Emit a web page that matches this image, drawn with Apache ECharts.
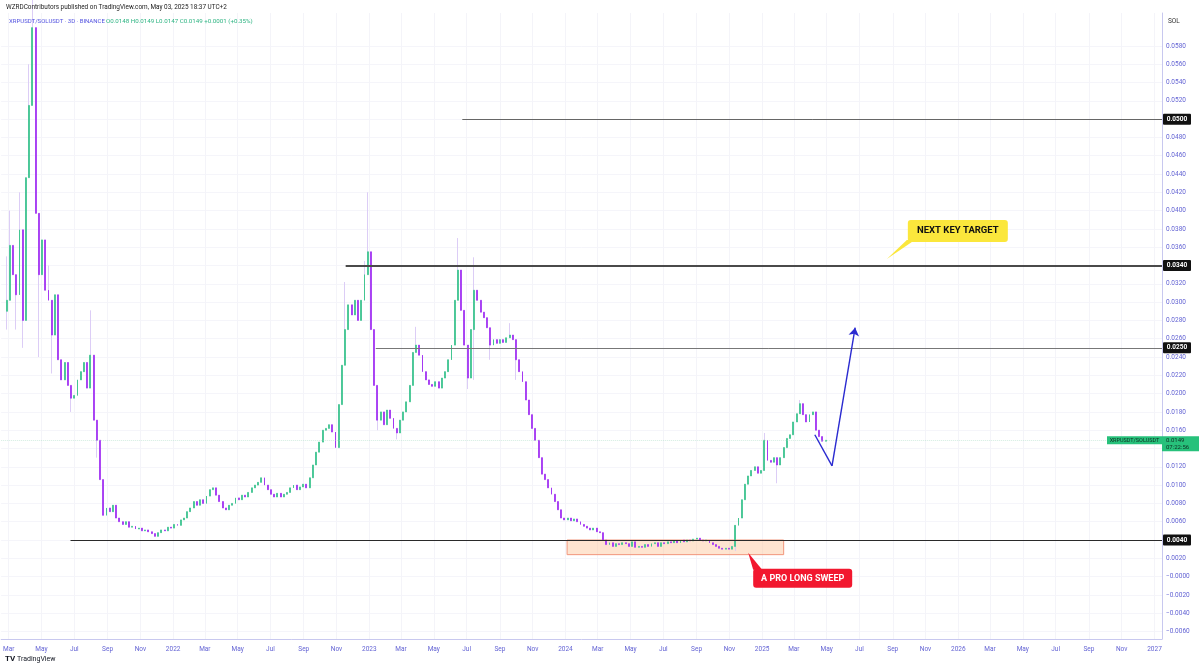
<!DOCTYPE html>
<html><head><meta charset="utf-8">
<script src="https://cdn.jsdelivr.net/npm/echarts@6/dist/echarts.min.js"></script>
<style>html,body{margin:0;padding:0;background:#fff}#c{width:1199px;height:668px}</style>
</head><body><div id="c"></div>
<script>
// ---------------- DATA ----------------
const candleStart = '2021-02-25';
const candleStepDays = 6;
const firstOpen = 0.0290;
const closes = [
0.0302,0.0362,0.0330,0.0308,0.0379,0.0280,0.0436,0.0515,0.0600,0.0397,
0.0330,0.0368,0.0313,0.0302,0.0264,0.0308,0.0237,0.0215,0.0234,0.0209,
0.0195,0.0198,0.0215,0.0224,0.0234,0.0206,0.0242,0.0171,0.0149,0.0106,
0.0067,0.0075,0.0071,0.0078,0.0064,0.0060,0.0057,0.0060,0.0054,0.0055,
0.0052,0.0053,0.0050,0.0051,0.0049,0.0047,0.0044,0.0048,0.0051,0.0050,
0.0054,0.0053,0.0057,0.0056,0.0062,0.0064,0.0071,0.0075,0.0082,0.0078,
0.0084,0.0080,0.0088,0.0095,0.0097,0.0089,0.0082,0.0075,0.0073,0.0078,
0.0080,0.0086,0.0084,0.0089,0.0087,0.0092,0.0097,0.0100,0.0103,0.0108,
0.0100,0.0095,0.0090,0.0087,0.0091,0.0087,0.0090,0.0092,0.0097,0.0100,
0.0095,0.0098,0.0101,0.0097,0.0108,0.0122,0.0136,0.0147,0.0160,0.0162,
0.0166,0.0158,0.0141,0.0188,0.0231,0.0270,0.0297,0.0286,0.0302,0.0280,
0.0302,0.0330,0.0355,0.0270,0.0209,0.0171,0.0180,0.0166,0.0182,0.0173,
0.0162,0.0157,0.0171,0.0180,0.0191,0.0209,0.0245,0.0253,0.0242,0.0224,
0.0215,0.0210,0.0208,0.0213,0.0206,0.0217,0.0224,0.0237,0.0253,0.0302,
0.0335,0.0291,0.0253,0.0217,0.0270,0.0313,0.0302,0.0289,0.0283,0.0272,
0.0253,0.0259,0.0255,0.0259,0.0256,0.0261,0.0264,0.0259,0.0237,0.0224,
0.0213,0.0193,0.0177,0.0162,0.0149,0.0130,0.0112,0.0106,0.0097,0.0090,
0.0082,0.0073,0.0064,0.0062,0.0064,0.0061,0.0063,0.0060,0.0057,0.0055,
0.0053,0.0051,0.0053,0.0049,0.0048,0.0040,0.0035,0.0037,0.0033,0.0036,
0.0035,0.0037,0.0036,0.0033,0.0038,0.0032,0.0033,0.0032,0.0035,0.0033,
0.0036,0.0037,0.0033,0.0037,0.0036,0.0038,0.0037,0.0039,0.0037,0.0040,
0.0038,0.0040,0.0039,0.0041,0.0042,0.0040,0.0039,0.0040,0.0037,0.0035,
0.0033,0.0031,0.0030,0.0031,0.0030,0.0033,0.0056,0.0064,0.0084,0.0101,
0.0110,0.0116,0.0120,0.0113,0.0116,0.0149,0.0127,0.0125,0.0130,0.0122,
0.0130,0.0141,0.0151,0.0155,0.0169,0.0178,0.0189,0.0177,0.0169,0.0177,
0.0180,0.0160,0.0153,0.0148,0.0149
];
// [candle index, wick high, wick low]
const wicks = [
[0,0.0350,0.0270],[1,0.0400,null],[3,null,0.0270],[4,0.0420,null],[5,null,0.0250],
[7,0.0560,null],[8,0.0680,null],[10,null,0.0240],[13,0.0340,null],[14,null,0.0222],
[16,0.0290,null],[20,null,0.0180],[26,0.0291,null],[28,null,0.0130],
[105,0.0322,null],[111,0.0345,null],[112,0.0420,null],[115,null,0.0160],[121,null,0.0150],
[127,0.0273,null],[140,0.0370,null],[143,null,0.0205],[145,0.0349,0.0215],[150,null,0.0237],
[156,0.0277,null],[158,null,0.0215],[226,null,0.0028],[235,0.0157,null],[239,null,0.0102],[246,0.0193,null]
];
const xTickDates = ['2021-03-01','2021-05-01','2021-07-01','2021-09-01','2021-11-01',
'2022-01-01','2022-03-01','2022-05-01','2022-07-01','2022-09-01','2022-11-01',
'2023-01-01','2023-03-01','2023-05-01','2023-07-01','2023-09-01','2023-11-01',
'2024-01-01','2024-03-01','2024-05-01','2024-07-01','2024-09-01','2024-11-01',
'2025-01-01','2025-03-01','2025-05-01','2025-07-01','2025-09-01','2025-11-01',
'2026-01-01','2026-03-01','2026-05-01','2026-07-01','2026-09-01','2026-11-01','2027-01-01'];
const xTickLabels = ['Mar','May','Jul','Sep','Nov',
'2022','Mar','May','Jul','Sep','Nov',
'2023','Mar','May','Jul','Sep','Nov',
'2024','Mar','May','Jul','Sep','Nov',
'2025','Mar','May','Jul','Sep','Nov',
'2026','Mar','May','Jul','Sep','Nov','2027'];
const yTickValues = [-0.006,-0.004,-0.002,0,0.002,0.004,0.006,0.008,0.010,0.012,0.014,0.016,0.018,0.020,
0.022,0.024,0.026,0.028,0.030,0.032,0.034,0.036,0.038,0.040,0.042,0.044,0.046,0.048,0.050,0.052,0.054,0.056,0.058];
const levelPrices = [0.0500, 0.0340, 0.0250, 0.0040];
const levelStarts = ['2023-06-23','2022-11-18','2023-01-13','2021-06-24'];
const sweepFrom = '2024-01-04', sweepTo = '2025-02-10', sweepTop = 0.0040, sweepBottom = 0.0024;
const arrowDates = ['2025-04-09','2025-05-11','2025-06-23'];
const arrowPrices = [0.0155, 0.0121, 0.0272];
const targetTip = ['2025-08-21', 0.0347];
const sweepTip = ['2024-12-06', 0.0026];
const lastPrice = 0.0149;
const countdown = '07:22:56';
const headerLine1 = 'WZRDContributors published on TradingView.com, May 03, 2025 18:37 UTC+2';
const symbolText = 'XRPUSDT/SOLUSDT · 3D · BINANCE';
const ohlcText = 'O0.0148 H0.0149 L0.0147 C0.0149 +0.0001 (+0.35%)';
const xMinDate = '2021-02-15', xMaxDate = '2027-01-15';
const yMin = -0.00682, yMax = 0.0616;

// ---------------- BUILD ----------------
const DAY = 86400000;
const t = s => Date.parse(s + 'T00:00:00Z');
const t0 = t(candleStart);
const wickMap = {};
wicks.forEach(w => wickMap[w[0]] = w);
const wickData = [], bodyData = [];
closes.forEach((c, i) => {
  const o = i === 0 ? firstOpen : closes[i - 1];
  const time = t0 + i * candleStepDays * DAY;
  let hi = Math.max(o, c), lo = Math.min(o, c);
  const w = wickMap[i];
  if (w) { if (w[1] != null) hi = Math.max(hi, w[1]); if (w[2] != null) lo = Math.min(lo, w[2]); }
  wickData.push([time, o, c, lo, hi]);
  bodyData.push([time, o, c, Math.min(o, c), Math.max(o, c)]);
});
const labelMap = {};
xTickDates.forEach((d, i) => labelMap[t(d)] = xTickLabels[i]);
const xMin = t(xMinDate), xMax = t(xMaxDate);
const FONT = 'Roboto, "Liberation Sans", sans-serif';
const UP = '#3cc58e', DOWN = '#a232f3', WICK = '#dccdf6';

const levelStyles = [
  {color:'#666', width:1}, {color:'#4a4a4a', width:2}, {color:'#777', width:1}, {color:'#2a2a2a', width:1.2}
];
const markLines = levelPrices.map((p, i) => [
  {coord:[t(levelStarts[i]), p], symbol:'none', lineStyle:{color:levelStyles[i].color, width:levelStyles[i].width, type:'solid'}},
  {coord:[xMax, p], symbol:'none'}
]);
markLines.push([
  {coord:[xMin, lastPrice], symbol:'none', lineStyle:{color:'#a8dcc4', width:1, type:'dotted', opacity:0.5}},
  {coord:[xMax, lastPrice], symbol:'none'}
]);
for (let i = 0; i < arrowDates.length - 1; i++) {
  markLines.push([
    {coord:[t(arrowDates[i]), arrowPrices[i]], symbol:'none', lineStyle:{color:'#2a2ad0', width:1.4, type:'solid'}},
    {coord:[t(arrowDates[i+1]), arrowPrices[i+1]], symbol: i === arrowDates.length - 2 ? 'arrow' : 'none', symbolSize: 8}
  ]);
}

const chart = echarts.init(document.getElementById('c'), null, {renderer:'canvas'});
const option = {
  animation:false,
  backgroundColor:'#ffffff',
  grid:{left:0, right:37, top:13, bottom:29, containLabel:false},
  xAxis:{
    type:'value', min:xMin, max:xMax, scale:true,
    axisLine:{show:true, onZero:false, lineStyle:{color:'#c8c8ef', width:1}},
    axisTick:{show:false, customValues: xTickDates.map(t)},
    splitLine:{show:true, lineStyle:{color:'#f4f4f9', width:1}},
    axisLabel:{
      customValues: xTickDates.map(t), margin:7, fontSize:6.5, fontFamily:FONT, color:'#6464d4',
      formatter: v => labelMap[v] || ''
    }
  },
  yAxis:{
    type:'value', position:'right', min:yMin, max:yMax, scale:true,
    axisLine:{show:true, onZero:false, lineStyle:{color:'#c8c8ef', width:1}},
    axisTick:{show:false, customValues: yTickValues},
    splitLine:{show:true, lineStyle:{color:'#f5f5fa', width:1}},
    axisLabel:{
      customValues: yTickValues, margin:4, fontSize:6.5, fontFamily:FONT, color:'#6464d4', align:'left',
      formatter: v => (v <= 0 ? '\u2212' + Math.abs(v).toFixed(4) : v.toFixed(4))
    }
  },
  series:[
    {
      type:'candlestick', name:'wick', data:wickData, barWidth:1,
      encode:{x:0, y:[1,2,3,4]},
      itemStyle:{color:WICK, color0:WICK, borderColor:WICK, borderColor0:WICK, borderWidth:1},
      markLine:{silent:true, label:{show:false}, data:markLines},
      markArea:{silent:true, label:{show:false},
        itemStyle:{color:'rgba(252,196,150,0.45)', borderColor:'#f1967c', borderWidth:1},
        data:[[{coord:[t(sweepFrom), sweepTop]}, {coord:[t(sweepTo), sweepBottom]}]]}
    },
    {
      type:'candlestick', name:'XRPUSDT/SOLUSDT', data:bodyData, barWidth:1.4,
      encode:{x:0, y:[1,2,3,4]},
      itemStyle:{color:UP, color0:DOWN, borderColor:UP, borderColor0:DOWN, borderWidth:0.8}
    }
  ]
};
chart.setOption(option);

function P(x, y){ return chart.convertToPixel({gridIndex:0}, [x, y]); }
const g = [];
const gridRight = P(xMax, 0)[0];
// header
g.push({type:'text', x:6, y:7, z:50, style:{text:headerLine1, fill:'#222', font:'6.4px ' + FONT, textVerticalAlign:'middle', verticalAlign:'middle'}});
g.push({type:'text', x:9, y:21, z:50, style:{text:symbolText, fill:'#5353e0', font:'6px ' + FONT, textVerticalAlign:'middle', verticalAlign:'middle'}});
g.push({type:'text', x:106, y:21, z:50, style:{text:ohlcText, fill:'#2db482', font:'6.2px ' + FONT, textVerticalAlign:'middle', verticalAlign:'middle'}});
g.push({type:'text', x:gridRight + 6, y:21, z:50, style:{text:'SOL', fill:'#333', font:'6.5px ' + FONT, textVerticalAlign:'middle', verticalAlign:'middle'}});
// footer
g.push({type:'text', x:5, y:659, z:50, style:{text:'TV', fill:'#131722', font:'bold 8px ' + FONT, textVerticalAlign:'middle', verticalAlign:'middle'}});
g.push({type:'text', x:17, y:659, z:50, style:{text:'TradingView', fill:'#131722', font:'7px ' + FONT, textVerticalAlign:'middle', verticalAlign:'middle'}});
// level tags
levelPrices.forEach(p => {
  const y = P(xMax, p)[1];
  g.push({type:'rect', z:40, shape:{x:gridRight + 1, y:y - 5.5, width:28, height:11, r:1}, style:{fill:'#111'}});
  g.push({type:'text', z:41, x:gridRight + 15, y:y, style:{text:p.toFixed(4), fill:'#fff', font:'bold 6.5px ' + FONT, align:'center', textAlign:'center', verticalAlign:'middle', textVerticalAlign:'middle'}});
});
// current price tags
(function(){
  const y = P(xMax, lastPrice)[1];
  g.push({type:'rect', z:40, shape:{x:gridRight - 55, y:y - 4, width:55, height:8}, style:{fill:'#27c17b'}});
  g.push({type:'text', z:41, x:gridRight - 27.5, y:y, style:{text:'XRPUSDT/SOLUSDT', fill:'#0f2e22', font:'5.5px ' + FONT, align:'center', textAlign:'center', verticalAlign:'middle', textVerticalAlign:'middle'}});
  g.push({type:'rect', z:40, shape:{x:gridRight, y:y - 4, width:37, height:15}, style:{fill:'#27c17b'}});
  g.push({type:'text', z:41, x:gridRight + 4, y:y, style:{text:lastPrice.toFixed(4), fill:'#0f2e22', font:'6px ' + FONT, verticalAlign:'middle', textVerticalAlign:'middle'}});
  g.push({type:'text', z:41, x:gridRight + 4, y:y + 7, style:{text:countdown, fill:'#0f2e22', font:'6px ' + FONT, verticalAlign:'middle', textVerticalAlign:'middle'}});
})();
// NEXT KEY TARGET callout
(function(){
  const [tx, ty] = P(t(targetTip[0]), targetTip[1]);
  g.push({type:'polygon', z:45, shape:{points:[[tx, ty], [tx + 20, ty - 19], [tx + 28, ty - 19]]}, style:{fill:'#fbe73c'}});
  g.push({type:'rect', z:45, shape:{x:tx + 21, y:ty - 39, width:100, height:22, r:3}, style:{fill:'#fbe73c'}});
  g.push({type:'text', z:46, x:tx + 71, y:ty - 28, style:{text:'NEXT KEY TARGET', fill:'#111', font:'bold 9.5px ' + FONT, align:'center', textAlign:'center', verticalAlign:'middle', textVerticalAlign:'middle'}});
})();
// A PRO LONG SWEEP callout
(function(){
  const [tx, ty] = P(t(sweepTip[0]), sweepTip[1]);
  g.push({type:'polygon', z:45, shape:{points:[[tx, ty], [tx + 5, ty + 17], [tx + 14, ty + 17]]}, style:{fill:'#f2182f'}});
  g.push({type:'rect', z:45, shape:{x:tx + 5, y:ty + 16, width:99, height:19, r:3}, style:{fill:'#f2182f'}});
  g.push({type:'text', z:46, x:tx + 54.5, y:ty + 25.5, style:{text:'A PRO LONG SWEEP', fill:'#fff', font:'bold 9px ' + FONT, align:'center', textAlign:'center', verticalAlign:'middle', textVerticalAlign:'middle'}});
})();
chart.setOption({graphic:{elements:g}});
</script>
</body></html>
